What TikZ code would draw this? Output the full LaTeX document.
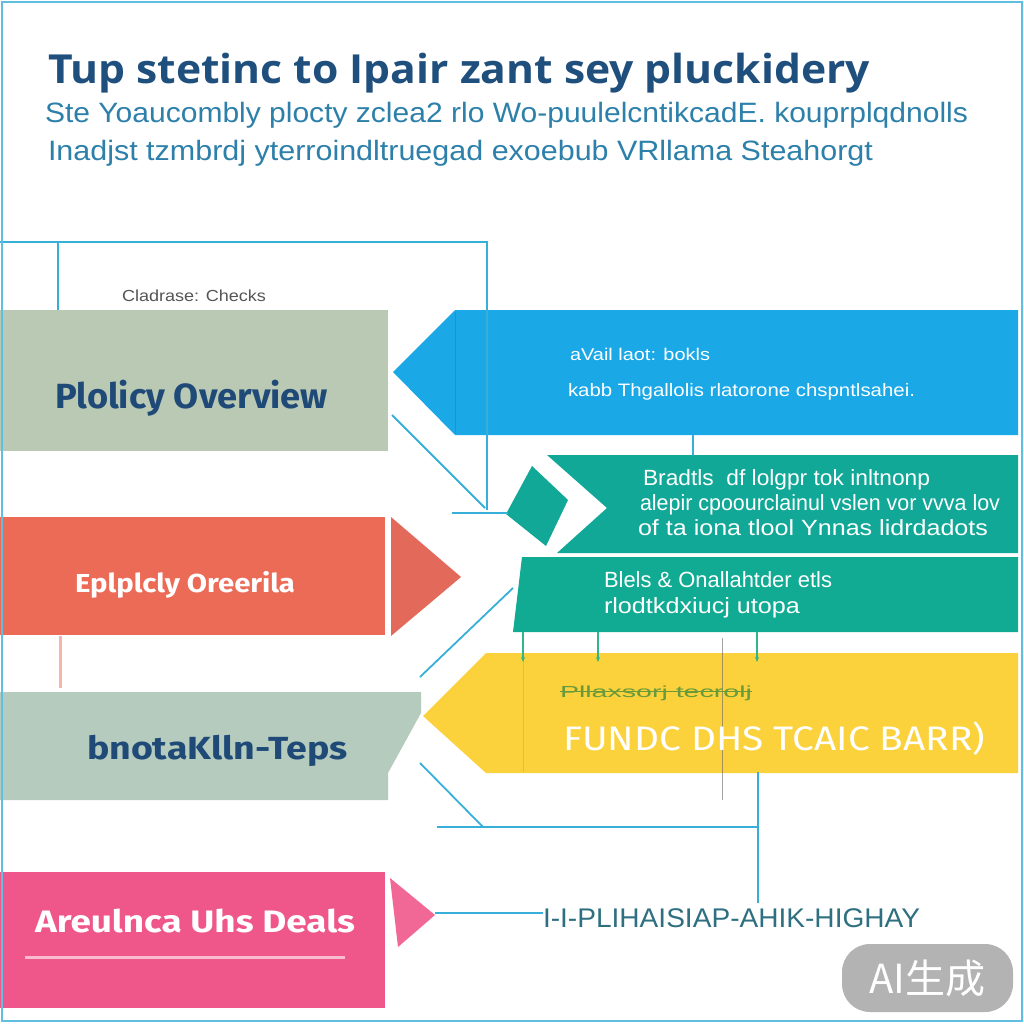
\documentclass[tikz,border=0pt]{standalone}
\usepackage{fontspec}
\usepackage{graphicx}
\setmainfont{Liberation Sans}
\newfontfamily\titlefont{Open Sans}
\newfontfamily\boxfont{Fira Sans}
\newfontfamily\cjkfont{Noto Sans CJK SC}
\newcommand{\fitw}[2]{\resizebox{#1}{\height}{#2}}
\definecolor{titleblue}{HTML}{1F4F7D}
\definecolor{subblue}{HTML}{2D80AA}
\definecolor{lineblue}{HTML}{38AFD9}
\definecolor{sage}{HTML}{B9C9B4}
\definecolor{sagetwo}{HTML}{B4CBBD}
\definecolor{skyblue}{HTML}{1BA8E6}
\definecolor{tealc}{HTML}{12A898}
\definecolor{salmon}{HTML}{EC6B57}
\definecolor{salmontwo}{HTML}{E36A5B}
\definecolor{yellowc}{HTML}{FBD23B}
\definecolor{pinkc}{HTML}{EF5689}
\definecolor{darkblue}{HTML}{1F4A78}
\definecolor{greytext}{HTML}{555555}
\definecolor{arrowgreen}{HTML}{2FB58A}
\definecolor{smallgreen}{HTML}{6A9A3A}
\definecolor{bottomtext}{HTML}{2E6F80}
\usetikzlibrary{arrows.meta}
\tikzset{
  txt/.style={anchor=base west, inner sep=0pt, outer sep=0pt},
  conn/.style={draw=lineblue, line width=1.8pt},
  thinarrow/.style={draw=arrowgreen, line width=1.2pt, -{Stealth[length=5pt,width=4pt]}},
}
\begin{document}
\begin{tikzpicture}[x=1pt,y=-1pt]
\useasboundingbox (0,0) rectangle (1024,1024);
\fill[white] (0,0) rectangle (1024,1024);

% ---------- title ----------
\node[txt, text=titleblue] (title) at (48,84)
  {\fitw{822pt}{\titlefont\bfseries\fontsize{40}{40}\selectfont Tup stetinc to Ipair zant sey pluckidery}};
\node[txt, text=subblue] (sub1) at (45,123)
  {\fitw{923pt}{\fontsize{28}{28}\selectfont Ste Yoaucombly plocty zclea2 rlo Wo-puulelcntikcadE. kouprplqdnolls}};
\node[txt, text=subblue] (sub2) at (48,161)
  {\fitw{825pt}{\fontsize{28}{28}\selectfont Inadjst tzmbrdj yterroindltruegad exoebub VRllama Steahorgt}};

% ---------- shapes ----------
% grey box 1
\fill[sage] (0,310) rectangle (388,451);
\coordinate (g1top) at (58,310);
% blue arrow box
\fill[skyblue] (393,372) -- (455,310) -- (1018,310) -- (1018,435) -- (455,435) -- cycle;
\draw[draw=skyblue!80!black, line width=0.8pt, opacity=0.5] (455,312) -- (455,433);
% teal box 1 with notch
\fill[tealc] (547,455) -- (1018,455) -- (1018,553) -- (557,553) -- (607,508) -- cycle;
% teal blob
\fill[tealc] (532,466) -- (568,500) -- (546,546) -- (506,514) -- cycle;
\coordinate (blob) at (508,513);
% teal box 2
\fill[tealc!97!green] (522,557) -- (1018,557) -- (1018,632) -- (513,632) -- cycle;
\draw[white, line width=1pt, opacity=0.6] (557,555) -- (1018,555);
% salmon box + arrow piece
\fill[salmon] (0,517) rectangle (385,635);
\fill[salmontwo] (391,517) -- (461,577) -- (391,636) -- cycle;
\draw[salmon!70!white, line width=3pt, opacity=0.7] (60,636) -- (60,688);
% grey box 2
\fill[sagetwo] (0,692) -- (421,692) -- (421,713) -- (388,773) -- (388,800) -- (0,800) -- cycle;
% yellow box
\fill[yellowc] (423,716) -- (486,653) -- (1018,653) -- (1018,773) -- (486,773) -- cycle;
\draw[yellowc!85!black, line width=0.6pt, opacity=0.6] (523,655) -- (523,772);
% pink box + tip
\fill[pinkc] (0,872) rectangle (385,1008);
\fill[pinkc!90!white] (390,878) -- (435,915) -- (398,947) -- cycle;
\draw[white, line width=3pt, opacity=0.6] (25,957) -- (345,957);

% ---------- connectors ----------
\coordinate (topleft) at (0,242);
\coordinate (topright) at (487,242);
\coordinate (topdown) at (487,510);
\coordinate (hleft) at (452,513);
\coordinate (g1diag) at (392,415);
\coordinate (diagend) at (485,508);
\coordinate (t2diag) at (513,588);
\coordinate (ytipup) at (420,677);
\coordinate (ytipdn) at (420,763);
\coordinate (hmid) at (483,827);
\coordinate (hleftb) at (437,827);
\coordinate (vright) at (758,827);
\coordinate (ybot) at (758,772);
\coordinate (vend) at (758,903);
\coordinate (pinktip) at (435,913);
\coordinate (bottxt) at (543,913);

\draw[conn] (topleft) -- (topright) -- (topdown);
\draw[conn] (58,242) -- (g1top);
\draw[conn] (hleft) -- (blob);
\draw[conn] (g1diag) -- (diagend);
\draw[conn] (t2diag) -- (ytipup);
\draw[conn] (ytipdn) -- (hmid);
\draw[conn] (hleftb) -- (vright);
\draw[conn] (ybot) -- (vend);
\draw[conn, line width=1.4pt] (pinktip) -- (bottxt);
\draw[conn, line width=1.2pt] (693,435) -- (693,455);
% small arrows teal 2 -> yellow
\draw[thinarrow] (523,632) -- (523,662);
\draw[thinarrow] (598,632) -- (598,662);
\draw[thinarrow] (757,632) -- (757,662);
\draw[black!60, line width=0.5pt, opacity=0.6] (722,638) -- (722,800);

% ---------- box texts ----------
\node[txt, text=greytext] (lblcheck) at (122,301)
  {\fitw{144pt}{\fontsize{16}{16}\selectfont Cladrase: Checks}};
\node[txt, text=darkblue] (g1txt) at (55,408)
  {\fitw{273pt}{\boxfont\bfseries\fontsize{35}{35}\selectfont Plolicy Overview}};
\node[txt, text=white] (b1) at (570,360)
  {\fitw{140pt}{\fontsize{17}{17}\selectfont aVail laot: bokls}};
\node[txt, text=white] (b2) at (568,396)
  {\fitw{347pt}{\fontsize{18}{18}\selectfont kabb Thgallolis rlatorone chspntlsahei.}};
\node[txt, text=white] (t1a) at (643,485)
  {\fitw{287pt}{\fontsize{22}{22}\selectfont Bradtls \ df lolgpr tok inltnonp}};
\node[txt, text=white] (t1b) at (640,510)
  {\fitw{360pt}{\fontsize{22}{22}\selectfont alepir cpoourclainul vslen vor vvva lov}};
\node[txt, text=white] (t1c) at (638,535)
  {\fitw{350pt}{\fontsize{22}{22}\selectfont of ta iona tlool Ynnas lidrdadots}};
\node[txt, text=white] (t2a) at (604,587)
  {\fitw{228pt}{\fontsize{22}{22}\selectfont Blels \& Onallahtder etls}};
\node[txt, text=white] (t2b) at (604,613)
  {\fitw{196pt}{\fontsize{22}{22}\selectfont rlodtkdxiucj utopa}};
\node[txt, text=white] (s1) at (75,592)
  {\fitw{220pt}{\boxfont\bfseries\fontsize{26}{26}\selectfont Eplplcly Oreerila}};
\node[txt, text=darkblue] (g2txt) at (87,759)
  {\fitw{261pt}{\boxfont\bfseries\fontsize{32}{32}\selectfont bnotaKlln-Teps}};
\node[txt, text=smallgreen] (ysmall) at (560,697)
  {\fitw{192pt}{\fontsize{16}{16}\selectfont Pllaxsorj tecrolj}};
\draw[smallgreen, line width=0.6pt] (ysmall.base west) ++(0,-6) -- ++(192,0);
\node[txt, text=white] (ybig) at (563,750)
  {\fitw{422pt}{\boxfont\fontsize{34}{34}\selectfont FUNDC DHS TCAIC BARR)}};
\node[txt, text=white] (p1) at (35,932)
  {\fitw{320pt}{\boxfont\bfseries\fontsize{31}{31}\selectfont Areulnca Uhs Deals}};
\node[txt, text=bottomtext] (bt) at (543,927)
  {\fitw{377pt}{\fontsize{27}{27}\selectfont I-I-PLIHAISIAP-AHIK-HIGHAY}};

% ---------- watermark ----------
\fill[black!35, opacity=0.85, rounded corners=28pt] (842,944) rectangle (1013,1012);
\node[text=white, inner sep=0pt] (wm) at (927.5,978)
  {\cjkfont\fontsize{40}{40}\selectfont AI生成};

% ---------- frame ----------
\draw[lineblue!80, line width=2pt] (2,2) rectangle (1022,1021);
\end{tikzpicture}
\end{document}
